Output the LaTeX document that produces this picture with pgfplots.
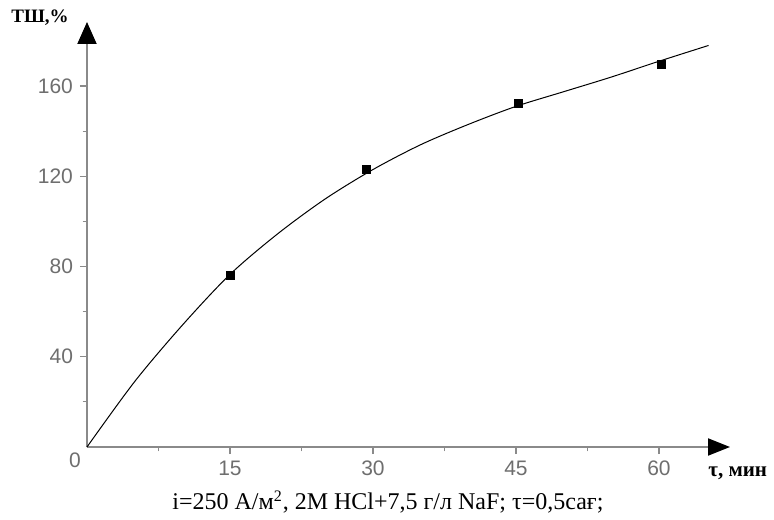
\documentclass[border=0pt]{standalone}
\usepackage{fontspec}
\setmainfont{Liberation Serif}
\newfontfamily\ticksfont{Liberation Sans}
\usepackage{pgfplots}
\pgfplotsset{compat=1.18}
\usetikzlibrary{arrows.meta}

\definecolor{axgray}{HTML}{8A8A8A}
\definecolor{lblgray}{HTML}{6E6E6E}

\begin{document}
\begin{tikzpicture}
  % frame so the page matches the reference proportions (1px = 0.5pt)
  \useasboundingbox (-43.5pt,-36pt) rectangle (343.5pt,223.5pt);
  \begin{axis}[
      at={(0,0)}, anchor=origin,
      scale only axis,
      width=321.5pt, height=212.5pt,
      xmin=0, xmax=67.45,
      ymin=0, ymax=188.4,
      axis lines=left,
      axis line style={draw=axgray, line width=1pt},
      x axis line style={-{Triangle[length=11pt,width=8.5pt,color=black]}},
      y axis line style={-{Triangle[length=11pt,width=9.5pt,color=black]}},
      xtick={15,30,45,60},
      ytick={40,80,120,160},
      minor xtick={7.5,22.5,37.5,52.5},
      minor ytick={20,60,100,140},
      tick align=outside,
      major tick length=3.5pt,
      minor tick length=2.2pt,
      tick style={draw=axgray, line width=0.6pt},
      tick label style={font=\ticksfont\fontsize{10.5}{12}\selectfont, text=lblgray},
      /pgf/number format/assume math mode=true,
      xlabel={\bfseries\fontsize{10.5}{12}\selectfont τ, мин},
      xlabel style={at={(rel axis cs:1,0)}, anchor=west, inner sep=0pt, xshift=-11pt, yshift=-13pt},
      ylabel={\bfseries\fontsize{9.5}{11}\selectfont ТШ,\%},
      ylabel style={at={(rel axis cs:0,1)}, anchor=center, rotate=-90, xshift=-23.5pt, yshift=2pt},
      clip=false,
    ]
    % fitted curve
    \addplot[black, line width=0.5pt, smooth] coordinates {
      (0,0) (5,29) (10,54) (15,76.5) (20,94.5) (25,110) (30,123)
      (35,134) (40,143) (45,151) (50,157.5) (55,164) (60,171) (65.2,178)
    };
    % measured points
    \addplot[only marks, mark=square*, mark size=2pt, black] coordinates {
      (15,76.2) (29.3,123.2) (45.3,152.5) (60.3,169.8)
    };
    \node[font=\ticksfont\fontsize{10.5}{12}\selectfont, text=lblgray, xshift=-6pt, yshift=-6.5pt] at (axis cs:0,0) {0};
    \node[font=\fontsize{12}{14}\selectfont, yshift=-27.5pt] at (rel axis cs:0.468,0)
      {i=250 А/м\textsuperscript{2}, 2М HCl+7,5 г/л NaF; τ=0,5сағ;};
  \end{axis}
\end{tikzpicture}
\end{document}
